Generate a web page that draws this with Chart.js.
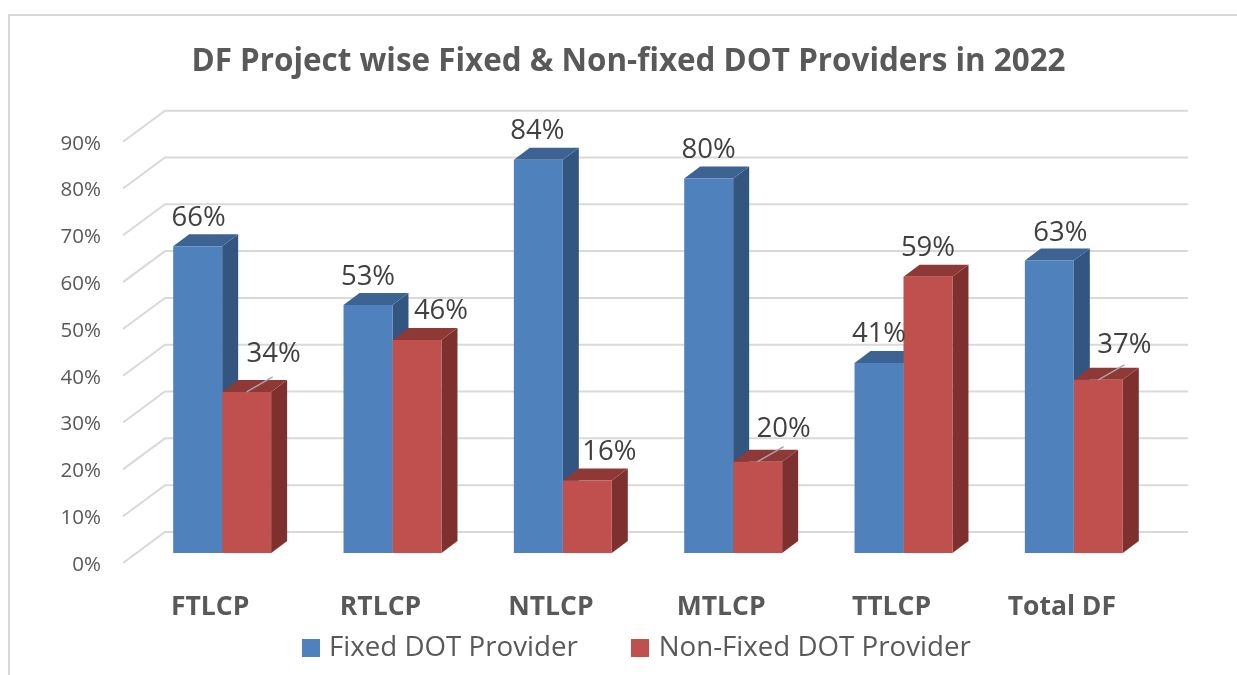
<!DOCTYPE html>
<html><head><meta charset="utf-8">
<style>html,body{margin:0;padding:0;background:#fff}#w{width:1237px;height:675px;position:relative}</style>
<script src="https://cdn.jsdelivr.net/npm/chart.js@4"></script></head>
<body><div id="w"><canvas id="c"></canvas></div>
<script>
const categories = ['FTLCP','RTLCP','NTLCP','MTLCP','TTLCP','Total DF'];
const fixedDot = [65.5,53,84,80,40.6,62.5];
const nonFixedDot = [34.4,45.5,15.5,19.5,59,37];
const seriesNames = ['Fixed DOT Provider','Non-Fixed DOT Provider'];
const axisTicks = [0,10,20,30,40,50,60,70,80,90];
const chartTitle = 'DF Project wise Fixed & Non-fixed DOT Providers in 2022';

const FONT = '"Open Sans"';
const GRID = '#d9d9d9';
const FACES = [
  {front:'#4F81BD', side:'#335680', top:'#3C6391'},
  {front:'#C0504D', side:'#7D302E', top:'#8E3936'}
];
// label offsets from the front-top-centre of each bar; "leaders" draw a thin connector
const labelOffsets = [
  [[1,-30],[0,-30],[-1,-31],[0,-30],[0,-31],[11,-29]],
  [[27,-40],[24,-31],[22,-30],[26,-35],[0,-31],[26,-37]]
];
const leaders = [[],[0,3,5]];

function legendSquare(color){
  const c=document.createElement('canvas');
  c.width=18;c.height=18;
  const g=c.getContext('2d');g.fillStyle=color;g.fillRect(0,0,18,18);
  return c;
}

const threeD = {
  id:'threeD',
  beforeLayout(chart){
    const l=chart.legend;
    if(!l._fixedFit){
      const f=l.fit;
      l.fit=function(){f.call(this);this.height=52;};
      l._fixedFit=true;
    }
  },
  afterLayout(chart){
    chart.titleBlock.left += 49; chart.titleBlock.right += 49;
    const l=chart.legend;
    l.left += 59; l.right += 59;
    l.top -= 47; l.height = 101; l.bottom = l.top + l.height;
  },
  beforeDraw(chart){
    const {ctx,scales:{y}} = chart;
    ctx.save();
    ctx.strokeStyle='#d9d9d9'; ctx.lineWidth=2;
    ctx.beginPath(); ctx.moveTo(9,675); ctx.lineTo(9,15); ctx.lineTo(1237,15); ctx.stroke();
    ctx.strokeStyle=GRID; ctx.lineWidth=2;
    y.ticks.forEach((t,i)=>{
      const p=y.getPixelForTick(i);
      ctx.beginPath(); ctx.moveTo(123,p-2); ctx.lineTo(165,p-33); ctx.lineTo(1188,p-33); ctx.stroke();
    });
    ctx.restore();
  },
  beforeDatasetsDraw(chart){
    const {ctx}=chart;
    const dx=16,dy=12;
    chart.data.datasets.forEach((ds,d)=>{
      chart.getDatasetMeta(d).data.forEach(b=>{
        const l=b.x-b.width/2,r=b.x+b.width/2,t=b.y,bt=b.base;
        ctx.fillStyle=FACES[d].side;
        ctx.beginPath();ctx.moveTo(r,t);ctx.lineTo(r+dx,t-dy);ctx.lineTo(r+dx,bt-dy);ctx.lineTo(r,bt);ctx.closePath();ctx.fill();
        ctx.fillStyle=FACES[d].top;
        ctx.beginPath();ctx.moveTo(l,t);ctx.lineTo(l+dx,t-dy);ctx.lineTo(r+dx,t-dy);ctx.lineTo(r,t);ctx.closePath();ctx.fill();
      });
    });
  },
  afterDatasetsDraw(chart){
    const {ctx}=chart;
    ctx.save();
    ctx.textAlign='center';ctx.textBaseline='middle';
    ctx.font='27.5px '+FONT;
    chart.data.datasets.forEach((ds,d)=>{
      chart.getDatasetMeta(d).data.forEach((b,i)=>{
        if(leaders[d].includes(i)){
          ctx.strokeStyle='#a6a6a6';ctx.lineWidth=1.5;
          ctx.beginPath();ctx.moveTo(b.x,b.y);ctx.lineTo(b.x+26,b.y-15);ctx.stroke();
        }
        const o=labelOffsets[d][i];
        ctx.fillStyle='#404040';
        ctx.fillText(Math.round(ds.data[i])+'%',b.x+o[0],b.y+o[1]+2);
      });
    });
    ctx.restore();
  }
};

new Chart(document.getElementById('c'),{
  type:'bar',
  data:{labels:categories,datasets:[
    {label:seriesNames[0],data:fixedDot,backgroundColor:FACES[0].front,pointStyle:legendSquare(FACES[0].front),yAxisID:'yBars'},
    {label:seriesNames[1],data:nonFixedDot,backgroundColor:FACES[1].front,pointStyle:legendSquare(FACES[1].front),yAxisID:'yBars'}
  ]},
  plugins:[threeD],
  options:{
    responsive:true,maintainAspectRatio:false,animation:false,
    layout:{padding:{left:0,right:78,top:0,bottom:0}},
    datasets:{bar:{categoryPercentage:0.575,barPercentage:1}},
    plugins:{
      tooltip:{enabled:false},
      title:{display:true,text:chartTitle,color:'#595959',font:{family:FONT,size:31.4,weight:'bold'},padding:{top:43,bottom:63}},
      legend:{position:'bottom',labels:{color:'#595959',font:{family:FONT,size:27.7},usePointStyle:true,pointStyleWidth:9,boxHeight:18,padding:58}}
    },
    scales:{
      x:{
        afterFit(s){s.height=58;},
        grid:{display:false,drawTicks:false},border:{display:false},
        ticks:{color:'#595959',font:{family:FONT,size:26.5,weight:'bold'},padding:27,labelOffset:-12,maxRotation:0,autoSkip:false}
      },
      y:{
        min:0,max:90,position:'left',
        afterFit(s){s.width=137;},
        afterBuildTicks(s){s.ticks=axisTicks.map(v=>({value:v}));},
        grid:{display:false,drawTicks:false},border:{display:false},
        ticks:{color:'#595959',font:{family:FONT,size:20.5},padding:36,callback:v=>v+'%'}
      },
      yBars:{
        display:false,min:-12/4.678,max:90-12/4.678
      }
    }
  }
});
</script></body></html>
